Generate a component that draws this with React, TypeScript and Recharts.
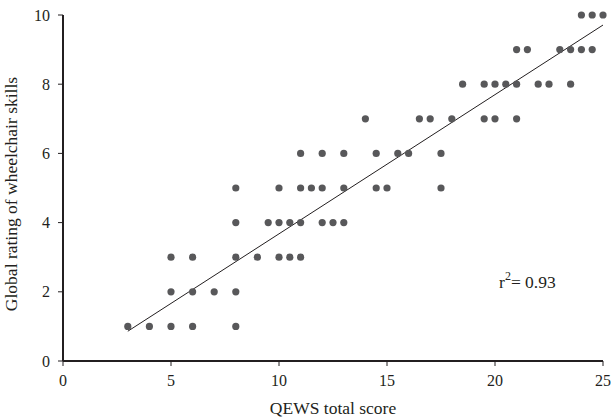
import React from 'react';
import { ScatterChart, Scatter, XAxis, YAxis, ReferenceLine, ReferenceDot } from 'recharts';

// global rating levels (y) and the QEWS scores seen at each level (x)
const ratingLevels = [1, 2, 3, 4, 5, 6, 7, 8, 9, 10];
const scoresAtRating = [
  [3, 4, 5, 6, 8],
  [5, 6, 7, 8],
  [5, 6, 8, 9, 10, 10.5, 11],
  [8, 9.5, 10, 10.5, 11, 12, 12.5, 13],
  [8, 10, 11, 11.5, 12, 13, 14.5, 15, 17.5],
  [11, 12, 13, 14.5, 15.5, 16, 17.5],
  [14, 16.5, 17, 18, 19.5, 20, 21],
  [18.5, 19.5, 20, 20.5, 21, 22, 22.5, 23.5],
  [21, 21.5, 23, 23.5, 24, 24.5],
  [24, 24.5, 25],
];

// regression line end points
const fitScores = [3, 25];
const fitRatings = [0.86, 9.71];

const xTicks = [0, 5, 10, 15, 20, 25];
const yTicks = [0, 2, 4, 6, 8, 10];

const points = ratingLevels.flatMap((rating, i) =>
  scoresAtRating[i].map((score) => ({ score, rating }))
);

const ink = '#231f20';
const font = 'Liberation Serif, Times New Roman, serif';

const Dot = (props: any) => (
  <circle cx={props.cx} cy={props.cy} r={3.6} fill="#58585a" />
);

const YTitle = (props: any) => {
  const vb = props.viewBox;
  const cx = vb.x + 11;
  const cy = vb.y + vb.height / 2 + 6;
  return (
    <text x={cx} y={cy} transform={`rotate(-90 ${cx} ${cy})`} textAnchor="middle"
      dominantBaseline="central" fontFamily={font} fontSize={17.5} fill={ink}>
      Global rating of wheelchair skills
    </text>
  );
};

const XTitle = (props: any) => {
  const vb = props.viewBox;
  return (
    <text x={vb.x + vb.width / 2} y={408} textAnchor="middle" dominantBaseline="central"
      fontFamily={font} fontSize={17.5} fill={ink}>
      QEWS total score
    </text>
  );
};

const R2Label = (props: any) => {
  const vb = props.viewBox;
  return (
    <text x={vb.x} y={vb.y} textAnchor="middle" dominantBaseline="central"
      fontFamily={font} fontSize={17.5} fill={ink}>
      <tspan>r</tspan>
      <tspan dy={-6} fontSize={12}>2</tspan>
      <tspan dy={6}>= 0.93</tspan>
    </text>
  );
};

export default function App() {
  return (
    <div style={{ position: 'absolute', left: 0, top: 0, background: '#fff' }}>
      <ScatterChart width={612} height={420} margin={{ top: 15, right: 9, left: 0, bottom: 0 }}>
        <XAxis type="number" dataKey="score" domain={[0, 25]} ticks={xTicks} interval={0}
          axisLine={{ stroke: ink, strokeWidth: 2 }} tickLine={{ stroke: ink }} tickSize={5}
          tickMargin={9} height={59}
          tick={{ fontFamily: font, fontSize: 16, fill: ink }}
          label={<XTitle />} />
        <YAxis type="number" dataKey="rating" domain={[0, 10]} ticks={yTicks} interval={0}
          axisLine={{ stroke: ink, strokeWidth: 2 }} tickLine={{ stroke: ink }} tickSize={5}
          tickMargin={8} width={63}
          tick={{ fontFamily: font, fontSize: 16, fill: ink }}
          label={<YTitle />} />
        <ReferenceLine
          segment={[
            { x: fitScores[0], y: fitRatings[0] },
            { x: fitScores[1], y: fitRatings[1] },
          ]}
          stroke={ink} strokeWidth={1} ifOverflow="visible" />
        <Scatter data={points} shape={<Dot />} isAnimationActive={false} />
        <ReferenceDot x={21.5} y={2.28} r={0} stroke="none" fill="none" ifOverflow="visible"
          label={<R2Label />} />
      </ScatterChart>
    </div>
  );
}
